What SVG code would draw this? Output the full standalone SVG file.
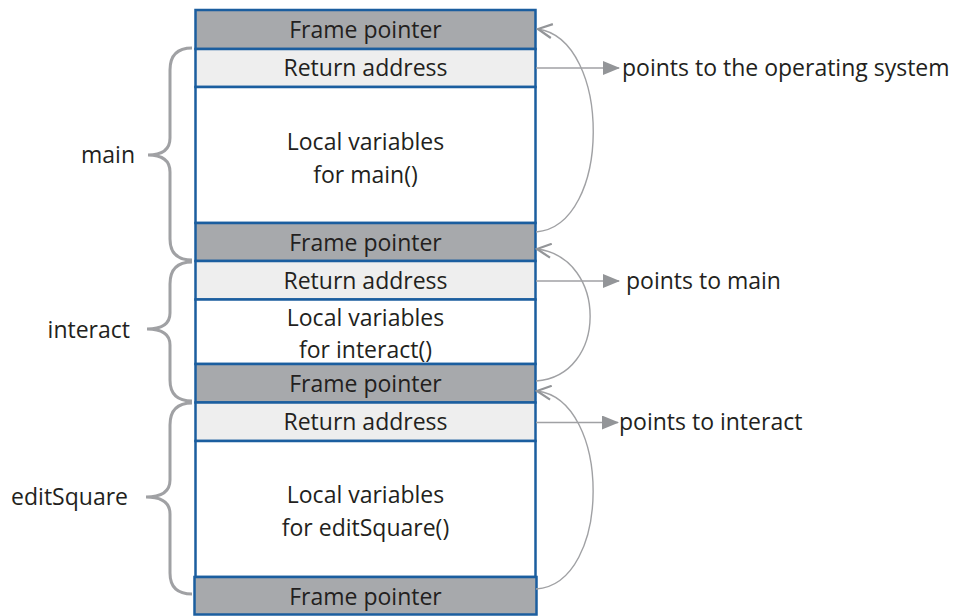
<svg xmlns="http://www.w3.org/2000/svg" width="964" height="616" viewBox="0 0 964 616">
<style>
text{font-family:"Open Sans","Liberation Sans",sans-serif;font-size:23px;fill:#231f20}
.c{text-anchor:middle}
.fp{fill:#a7a9ac;stroke:#1b5e9f;stroke-width:2.5}
.ra{fill:#eeeeee;stroke:#1b5e9f;stroke-width:2.5}
.lv{fill:#ffffff;stroke:#1b5e9f;stroke-width:2.5}
.brace{fill:none;stroke:#a0a1a4;stroke-width:3}
.line{fill:none;stroke:#a0a1a4;stroke-width:1.6}
.curve{fill:none;stroke:#a0a1a4;stroke-width:1.4}
</style>
<defs>
<marker id="tri" markerWidth="17" markerHeight="14" refX="16" refY="7" orient="auto" markerUnits="userSpaceOnUse">
<path d="M0,0 L17,7 L0,14 Z" fill="#939598"/>
</marker>
<marker id="vee" markerWidth="18" markerHeight="16" refX="16" refY="8" orient="auto" markerUnits="userSpaceOnUse">
<path d="M2,1 L16,8 L2,15" fill="none" stroke="#939598" stroke-width="2.2"/>
</marker>
</defs>

<g id="main-fp">
<rect class="fp" x="195.5" y="10" width="340" height="39"/>
<text class="c" x="365.5" y="38">Frame pointer</text>
</g>
<g id="main-ra">
<rect class="ra" x="195.5" y="49" width="340" height="38"/>
<text class="c" x="365.5" y="76">Return address</text>
</g>
<g id="main-lv">
<rect class="lv" x="195.5" y="87" width="340" height="136"/>
<text class="c" x="365.5" y="150">Local variables</text>
<text class="c" x="365.5" y="183">for main()</text>
</g>
<g id="interact-fp">
<rect class="fp" x="195.5" y="223" width="340" height="38"/>
<text class="c" x="365.5" y="251">Frame pointer</text>
</g>
<g id="interact-ra">
<rect class="ra" x="195.5" y="261" width="340" height="38.5"/>
<text class="c" x="365.5" y="289">Return address</text>
</g>
<g id="interact-lv">
<rect class="lv" x="195.5" y="299.5" width="340" height="64.5"/>
<text class="c" x="365.5" y="326">Local variables</text>
<text class="c" x="365.5" y="358">for interact()</text>
</g>
<g id="edit-fp">
<rect class="fp" x="195.5" y="364" width="340" height="38.5"/>
<text class="c" x="365.5" y="392">Frame pointer</text>
</g>
<g id="edit-ra">
<rect class="ra" x="195.5" y="402.5" width="340" height="38.5"/>
<text class="c" x="365.5" y="430">Return address</text>
</g>
<g id="edit-lv">
<rect class="lv" x="195.5" y="441" width="340" height="136"/>
<text class="c" x="365.5" y="503">Local variables</text>
<text class="c" x="365.5" y="536">for editSquare()</text>
</g>
<g id="bottom-fp">
<rect class="fp" x="194.5" y="577" width="342" height="37.5"/>
<text class="c" x="365.5" y="605">Frame pointer</text>
</g>

<g id="brace-main">
<path class="brace" d="M192,48 Q170,48 170,70 L170,138 Q170,155 148,155 Q170,155 170,172 L170,239 Q170,260 192,260"/>
<text x="135" y="163" style="text-anchor:end">main</text>
</g>
<g id="brace-interact">
<path class="brace" d="M192,262 Q170,262 170,284 L170,313 Q170,329 147,329 Q170,329 170,345 L170,380 Q170,401 192,401"/>
<text x="130" y="338" style="text-anchor:end">interact</text>
</g>
<g id="brace-edit">
<path class="brace" d="M192,403 Q170,403 170,425 L170,480 Q170,497 146,497 Q170,497 170,514 L170,573 Q170,594 192,594"/>
<text x="128" y="505" style="text-anchor:end">editSquare</text>
</g>

<g id="connectors">
<line class="line" x1="536" y1="68" x2="619" y2="68" marker-end="url(#tri)"/>
<line class="line" x1="536" y1="281" x2="619" y2="281" marker-end="url(#tri)"/>
<line class="line" x1="536" y1="422.5" x2="618" y2="422.5" marker-end="url(#tri)"/>
<path class="curve" d="M536,232 C612,226 612,40 538,29" marker-end="url(#vee)"/>
<path class="curve" d="M536,381 C608,376 608,258 537,249" marker-end="url(#vee)"/>
<path class="curve" d="M536,589 C612,584 612,400 537,391" marker-end="url(#vee)"/>
</g>

<g id="labels">
<text x="622" y="76">points to the operating system</text>
<text x="626" y="289">points to main</text>
<text x="619" y="430">points to interact</text>
</g>
</svg>
